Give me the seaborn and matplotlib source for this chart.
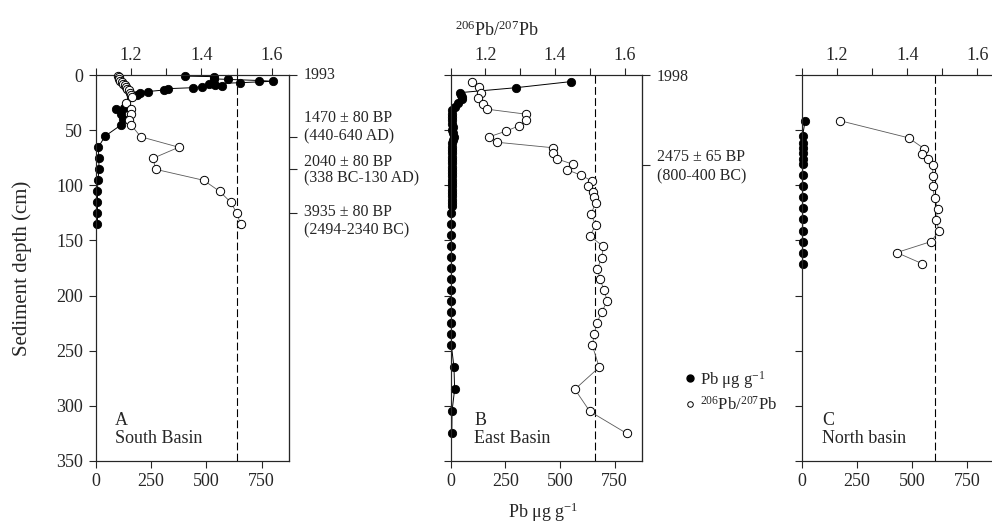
import numpy as np
import pandas as pd
import seaborn as sns
import matplotlib
matplotlib.use("Agg")
import matplotlib.pyplot as plt
from matplotlib.lines import Line2D

# depth profiles (depth in cm)
# South basin (A)
a_pb_depth = [1, 1.5, 3.5, 4, 5, 5.7, 7, 8, 9, 10, 10.6, 11.5, 12.4, 13.6, 15, 16.6, 18, 20,
              30, 31, 35, 40, 45.5, 55.5, 65.5, 75.5, 85.5, 95.5, 105.5, 115.5, 125.5, 135.5]
a_pb = [405, 535, 535, 600, 740, 800, 650, 510, 540, 570, 480, 440, 325, 310, 235, 200, 185, 160,
        130, 92, 113, 125, 113, 42, 12, 14, 15, 10, 8, 8, 8, 8]
a_r_depth = [0.5, 2, 3.5, 5, 6.5, 8, 9.5, 11, 12.5, 14, 16, 18, 20, 25, 31, 35.5, 41, 45.5,
             56, 65.5, 75.5, 85.5, 95.5, 105.5, 115.5, 125.5, 135.5]
a_ratio = [1.163, 1.165, 1.167, 1.170, 1.174, 1.178, 1.182, 1.186, 1.190, 1.194, 1.198, 1.201, 1.204,
           1.187, 1.201, 1.199, 1.194, 1.201, 1.228, 1.336, 1.263, 1.270, 1.407, 1.452, 1.484, 1.501, 1.512]

# East basin (B)
b_pb_depth = [6, 11.5, 16, 18, 20, 22, 25.5, 29,
              32, 35, 38, 41, 44, 47, 50, 53, 56, 59, 62, 65, 68, 71, 74, 77, 80, 83, 86, 89,
              92, 95, 98, 101, 104, 107, 110, 113, 116, 119,
              125, 135, 145, 155, 165, 175, 185, 195, 205, 215, 225, 235, 245,
              265, 285, 305, 325]
b_pb = [549, 299, 43, 48, 52, 50, 33, 20,
        8, 6, 5, 6, 7, 10, 8, 12, 16, 10, 6, 5, 5, 5, 4, 4, 4, 4, 4, 4,
        4, 4, 4, 4, 4, 4, 4, 4, 4, 4,
        3, 3, 3, 3, 3, 3, 3, 3, 3, 3, 3, 3, 3,
        15, 18, 6, 5]
b_r_depth = [6, 10.5, 16, 21, 26, 31, 35.5, 41, 46, 51, 56, 61, 66, 71, 76, 81, 86, 91, 96, 101,
             106, 111, 116, 126, 136, 146, 155.5, 165.5, 175.5, 185, 195, 205, 215, 225, 235,
             245, 265, 285, 305, 325]
b_ratio = [1.162, 1.181, 1.186, 1.178, 1.194, 1.205, 1.316, 1.316, 1.297, 1.258, 1.211, 1.234,
           1.395, 1.393, 1.405, 1.452, 1.435, 1.476, 1.505, 1.495, 1.51, 1.513, 1.517, 1.503,
           1.517, 1.5, 1.539, 1.534, 1.522, 1.529, 1.541, 1.55, 1.534, 1.52, 1.513, 1.507,
           1.527, 1.457, 1.5, 1.606]

# North basin (C)
c_pb_depth = [41.5, 55, 62, 66.5, 71, 76, 81, 91, 101, 111, 121, 131, 141, 151, 161, 171]
c_pb = [14, 3, 3, 3, 3, 3, 3, 3, 3, 3, 3, 3, 3, 3, 3, 3]
c_r_depth = [41.5, 57, 67, 72, 76.5, 82, 91.5, 101, 111.5, 121.5, 131.5, 141, 151, 161, 171]
c_ratio = [1.209, 1.404, 1.449, 1.442, 1.458, 1.473, 1.472, 1.472, 1.478, 1.487, 1.482, 1.491,
           1.468, 1.37, 1.442]

ref_ratio = [1.50, 1.515, 1.478]

# dated horizons on the right-hand axes
a_date_depth = [0, 56, 85.5, 125]
b_date_depth = [0, 81.5]

sns.set_style("ticks")
plt.rcParams['font.family'] = ['Liberation Serif', 'DejaVu Serif']
plt.rcParams['mathtext.fontset'] = 'custom'
plt.rcParams['mathtext.rm'] = 'Liberation Serif'
plt.rcParams['mathtext.default'] = 'regular'
plt.rcParams['axes.linewidth'] = 0.8

fig = plt.figure(figsize=(9.92, 5.24), dpi=100)
W, H = 992, 524


def rect(x0, x1, y0, y1):
    return [x0 / W, 1 - y1 / H, (x1 - x0) / W, (y1 - y0) / H]


def panel(r, pbd, pb, rd, ratio, ref, date_depth, ylabels):
    ax = fig.add_axes(r)
    sns.lineplot(x=pb, y=pbd, sort=False, estimator=None, ax=ax, color="black", lw=0.7,
                 marker="o", markersize=6, markerfacecolor="black", markeredgecolor="black",
                 markeredgewidth=0.6, clip_on=False, zorder=5)
    ax.set_xlim(0, 875)
    ax.set_ylim(350, 0)
    ax.set_xticks([0, 250, 500, 750])
    ax.set_yticks(np.arange(0, 351, 50))
    if not ylabels:
        ax.set_yticklabels([])
    ax.tick_params(direction="out", length=5, width=0.8, labelsize=13, pad=4)
    ax.set_xlabel("")
    ax.set_ylabel("")

    axt = ax.twiny()
    sns.lineplot(x=ratio, y=rd, sort=False, estimator=None, ax=axt, color="0.35", lw=0.6,
                 marker="o", markersize=6, markerfacecolor="white", markeredgecolor="black",
                 markeredgewidth=0.7, clip_on=False, zorder=4)
    axt.axvline(ref, color="black", lw=0.8, ls=(0, (7, 3)), zorder=1)
    axt.set_xlim(1.1, 1.65)
    axt.set_xticks([1.2, 1.4, 1.6])
    axt.set_xticks([1.1, 1.3, 1.5], minor=True)
    axt.tick_params(which="both", direction="out", length=5, width=0.8, labelsize=13, pad=3)
    axt.set_xlabel("")
    axt.set_ylabel("")

    if date_depth:
        sec = ax.secondary_yaxis("right")
        sec.set_yticks(date_depth)
        sec.set_yticklabels([])
        sec.tick_params(direction="out", length=6, width=0.8)
    return ax


axA = panel(rect(95.7, 289.3, 75, 461), a_pb_depth, a_pb, a_r_depth, a_ratio, ref_ratio[0],
            a_date_depth, True)
axB = panel(rect(450.7, 642, 75, 461), b_pb_depth, b_pb, b_r_depth, b_ratio, ref_ratio[1],
            b_date_depth, False)
axC = panel(rect(802, 995, 75, 461), c_pb_depth, c_pb, c_r_depth, c_ratio, ref_ratio[2],
            None, False)

# date annotations
ann = dict(fontsize=11.5, va="center", ha="left", clip_on=False)
tr = axA.get_yaxis_transform()
for y, s in [(0, "1993"), (39, "1470 ± 80 BP"), (55.5, "(440-640 AD)"),
             (78.5, "2040 ± 80 BP"), (93.5, "(338 BC-130 AD)"),
             (124, "3935 ± 80 BP"), (141, "(2494-2340 BC)")]:
    axA.text(1.076, y, s, transform=tr, **ann)
tr = axB.get_yaxis_transform()
for y, s in [(1.5, "1998"), (74, "2475 ± 65 BP"), (92, "(800-400 BC)")]:
    axB.text(1.077, y, s, transform=tr, **ann)

# panel names
for ax, x, l1, l2 in [(axA, 0.1, "A", "South Basin"), (axB, 0.122, "B", "East Basin"),
                      (axC, 0.104, "C", "North basin")]:
    t = ax.get_yaxis_transform()
    ax.text(x, 313, l1, transform=t, fontsize=13, va="center", ha="left")
    ax.text(x, 330, l2, transform=t, fontsize=13, va="center", ha="left")

# shared labels
fig.text(22 / W, 1 - 268 / H, "Sediment depth (cm)", rotation=90, fontsize=15,
         ha="center", va="center")
fig.text(543 / W, 1 - 512 / H, "Pb μg g$^{-1}$", fontsize=13, ha="center", va="center")
fig.text(497 / W, 1 - 30 / H, "$^{206}$Pb/$^{207}$Pb", fontsize=13, ha="center", va="center")

handles = [Line2D([], [], ls="none", marker="o", ms=5, mfc="black", mec="black"),
           Line2D([], [], ls="none", marker="o", ms=4, mfc="white", mec="black", mew=0.7)]
fig.legend(handles, ["Pb μg g$^{-1}$", "$^{206}$Pb/$^{207}$Pb"], loc="center left",
           bbox_to_anchor=(677 / W, 1 - 391 / H), frameon=False, fontsize=12,
           handlelength=0.6, handletextpad=0.3, labelspacing=0.3, borderpad=0)

fig.savefig("out.png", dpi=100)
